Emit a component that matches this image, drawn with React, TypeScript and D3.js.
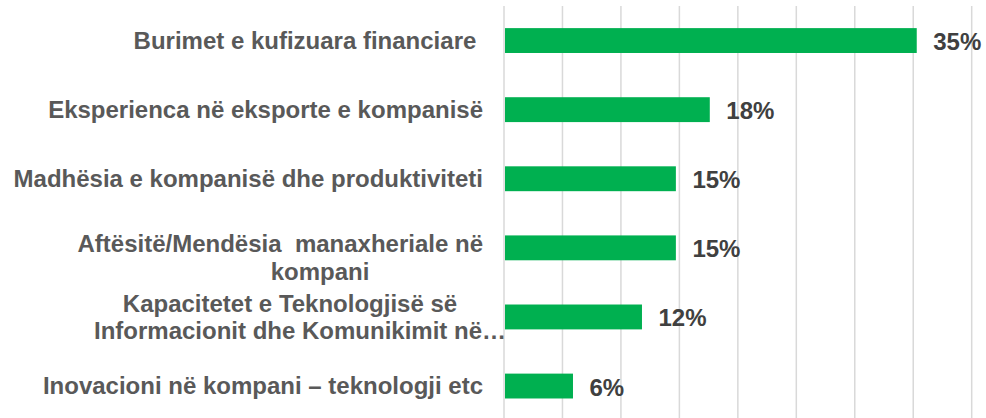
import React from "react";
import * as d3 from "d3";

const categories = [
  "Burimet e kufizuara financiare ",
  "Eksperienca në eksporte e kompanisë",
  "Madhësia e kompanisë dhe produktiviteti",
  "Aftësitë/Mendësia  manaxheriale në kompani",
  "Kapacitetet e Teknologjisë së Informacionit dhe Komunikimit në kompani",
  "Inovacioni në kompani – teknologji etc",
];
const labelLines = [
  ["Burimet e kufizuara financiare "],
  ["Eksperienca në eksporte e kompanisë"],
  ["Madhësia e kompanisë dhe produktiviteti"],
  ["Aftësitë/Mendësia  manaxheriale në", "kompani"],
  ["Kapacitetet e Teknologjisë së", "Informacionit dhe Komunikimit në…"],
  ["Inovacioni në kompani – teknologji etc"],
];
const values = [35.3, 17.6, 14.7, 14.7, 11.8, 5.9];
const xTicks = [0, 5, 10, 15, 20, 25, 30, 35, 40];

// layout (style) for multi-line label positioning: [anchor, x, dyFromCenter]
const lineLayout: Record<number, [string, number, number][]> = {
  3: [["end", 483, 4.2], ["middle", 320, 32]],
  4: [["middle", 290, -5], ["middle", 300, 22.5]],
};

const W = 986;
const H = 418;
const GREEN = "#00B050";
const FONT = "'Liberation Sans', Arial, sans-serif";

export default function App() {
  const x = d3.scaleLinear().domain([0, 40]).range([504, 971.7]);
  const y = d3
    .scaleBand<string>()
    .domain(categories)
    .range([6, 420.6])
    .paddingInner(0.64)
    .paddingOuter(0.32);

  return (
    <svg
      width={W}
      height={H}
      style={{ position: "absolute", left: 0, top: 0, background: "#fff" }}
      fontFamily={FONT}
    >
      {xTicks.map((t) => (
        <line
          key={t}
          x1={x(t)}
          x2={x(t)}
          y1={6}
          y2={H}
          stroke="#d9d9d9"
          strokeWidth={1.5}
        />
      ))}
      {categories.map((c, i) => {
        const y0 = y(c)!;
        const bw = y.bandwidth();
        const cy = y0 + bw / 2;
        return (
          <g key={c}>
            <rect
              x={x(0) + 1}
              y={y0}
              width={x(values[i]) - x(0) - 1}
              height={bw}
              fill={GREEN}
            />
            <text
              x={x(values[i]) + 16.5}
              y={cy + 9.5}
              fontSize={24}
              fontWeight="bold"
              fill="#404040"
            >
              {Math.round(values[i]) + "%"}
            </text>
            {labelLines[i].map((ln, j) => {
              const lay = lineLayout[i]
                ? lineLayout[i][j]
                : (["end", 483, 8] as [string, number, number]);
              return (
                <text
                  key={j}
                  x={lay[1]}
                  y={cy + lay[2]}
                  textAnchor={lay[0] as any}
                  fontSize={24}
                  fontWeight="bold"
                  fill="#595959"
                  style={{ whiteSpace: "pre" }}
                >
                  {ln}
                </text>
              );
            })}
          </g>
        );
      })}
    </svg>
  );
}
